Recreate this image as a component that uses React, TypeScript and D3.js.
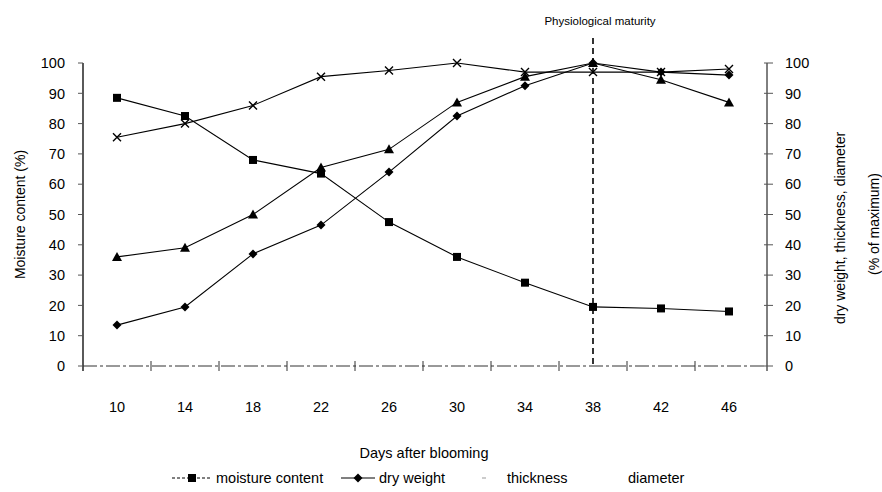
import React from "react";
import * as d3 from "d3";

const days = [10, 14, 18, 22, 26, 30, 34, 38, 42, 46];
const moisture = [88.5, 82.5, 68, 63.5, 47.5, 36, 27.5, 19.5, 19, 18];
const dryWeight = [13.5, 19.5, 37, 46.5, 64, 82.5, 92.5, 100, 97, 96];
const thickness = [36, 39, 50, 65.5, 71.5, 87, 95.5, 100, 94.5, 87];
const diameter = [75.5, 80, 86, 95.5, 97.5, 100, 97, 97, 97, 98];
const yTicks = [0, 10, 20, 30, 40, 50, 60, 70, 80, 90, 100];
const maturityDay = 38;

const W = 882, H = 492;
const left = 83, right = 763, axisRight = 767, top = 63, bottom = 366;
const font = "Liberation Sans, Arial, sans-serif";

function Marker({ type, x, y, color = "#000" }: { type: string; x: number; y: number; color?: string }) {
  if (type === "square") return <rect x={x - 4} y={y - 4} width={8} height={8} fill={color} />;
  if (type === "diamond") return <path d={`M${x},${y - 4.5}L${x + 4.5},${y}L${x},${y + 4.5}L${x - 4.5},${y}Z`} fill={color} />;
  if (type === "triangle") return <path d={`M${x},${y - 5}L${x + 5},${y + 4}L${x - 5},${y + 4}Z`} fill={color} />;
  return <path d={`M${x - 4},${y - 4}L${x + 4},${y + 4}M${x + 4},${y - 4}L${x - 4},${y + 4}`} stroke={color} strokeWidth={1.4} />;
}

export default function App() {
  const x = d3.scaleBand<number>().domain(days).range([left, right]);
  const y = d3.scaleLinear().domain([0, 100]).range([bottom, top]);
  const cx = (d: number) => (x(d) as number) + x.bandwidth() / 2;
  const series = [
    { name: "moisture content", values: moisture, marker: "square" },
    { name: "dry weight", values: dryWeight, marker: "diamond" },
    { name: "thickness", values: thickness, marker: "triangle" },
    { name: "diameter", values: diameter, marker: "x" },
  ];
  const line = d3.line<number>().x((_, i) => cx(days[i])).y((v) => y(v));
  const bounds = days.slice(1).map((d) => x(d) as number);
  const mx = cx(maturityDay);
  const midY = (top + bottom) / 2;

  return (
    <svg width={W} height={H} style={{ position: "absolute", left: 0, top: 0, background: "#fff" }} fontFamily={font}>
      {/* axes */}
      <line x1={left} x2={left} y1={top} y2={bottom + 5} stroke="#000" strokeWidth={1.3} />
      <line x1={axisRight} x2={axisRight} y1={top} y2={bottom + 5} stroke="#000" strokeWidth={1} />
      <line x1={left} x2={axisRight} y1={bottom} y2={bottom} stroke="#333" strokeWidth={1} strokeDasharray="14,3,3,3" />
      {yTicks.map((t) => (
        <g key={t}>
          <line x1={left - 5} x2={left} y1={y(t)} y2={y(t)} stroke="#555" />
          <line x1={axisRight - 3} x2={axisRight + 6} y1={y(t)} y2={y(t)} stroke="#555" />
          <text x={65} y={y(t)} dy="0.36em" textAnchor="end" fontSize={14.5}>{t}</text>
          <text x={785} y={y(t)} dy="0.36em" textAnchor="start" fontSize={14.5}>{t}</text>
        </g>
      ))}
      {bounds.map((b, i) => (
        <line key={i} x1={b} x2={b} y1={bottom - 5} y2={bottom + 5} stroke="#333" />
      ))}
      {days.map((d) => (
        <text key={d} x={cx(d)} y={412} textAnchor="middle" fontSize={14.5}>{d}</text>
      ))}
      <text x={424} y={458} textAnchor="middle" fontSize={14.5}>Days after blooming</text>
      <text transform={`translate(25,${midY}) rotate(-90)`} textAnchor="middle" fontSize={14}>Moisture content (%)</text>
      <text transform={`translate(845,228) rotate(-90)`} textAnchor="middle" fontSize={14}>dry weight, thickness, diameter</text>
      <text transform={`translate(879,224) rotate(-90)`} textAnchor="middle" fontSize={14}>(% of maximum)</text>

      {/* maturity line */}
      <line x1={mx} x2={mx} y1={38} y2={bottom} stroke="#000" strokeWidth={1.6} strokeDasharray="6,4" />
      <text x={600} y={25} textAnchor="middle" fontSize={11.5}>Physiological maturity</text>

      {/* series */}
      {series.map((s) => (
        <g key={s.name}>
          <path d={line(s.values) || ""} fill="none" stroke="#000" strokeWidth={1.1} />
          {s.values.map((v, i) => (
            <Marker key={i} type={s.marker} x={cx(days[i])} y={y(v)} />
          ))}
        </g>
      ))}

      {/* legend */}
      <g fontSize={14.5}>
        <line x1={172} x2={212} y1={478} y2={478} stroke="#000" strokeDasharray="3,2" />
        <Marker type="square" x={192} y={478} />
        <text x={216} y={483}>moisture content</text>
        <line x1={341} x2={375} y1={478} y2={478} stroke="#000" />
        <Marker type="diamond" x={358} y={478} />
        <text x={379} y={483}>dry weight</text>
        <line x1={482} x2={486} y1={478} y2={478} stroke="#999" />
        <text x={507} y={483}>thickness</text>
        <text x={628} y={483}>diameter</text>
      </g>
    </svg>
  );
}
